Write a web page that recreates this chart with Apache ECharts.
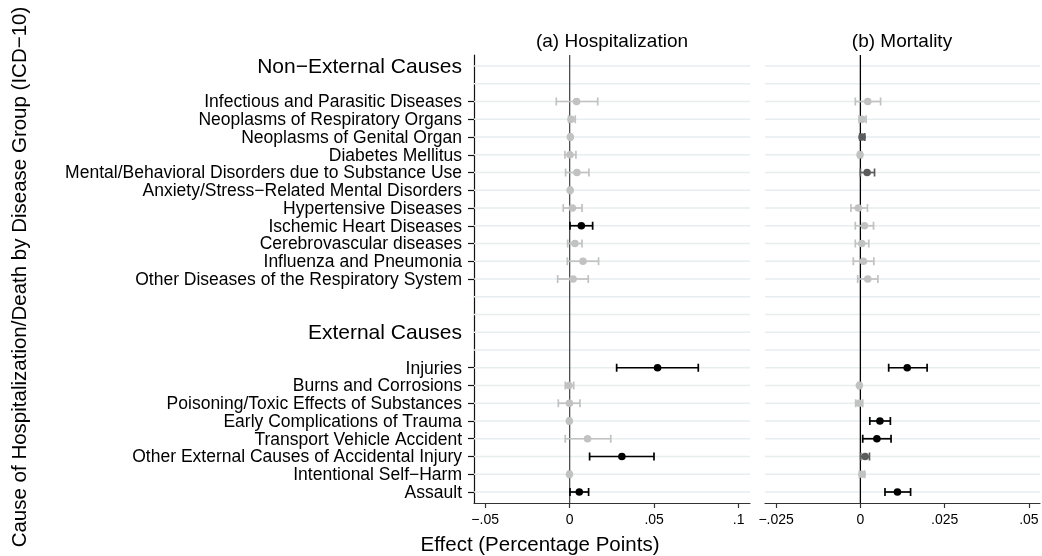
<!DOCTYPE html>
<html>
<head>
<meta charset="utf-8">
<script src="https://cdn.jsdelivr.net/npm/echarts@6/dist/echarts.min.js"></script>
<style>
  html, body { margin: 0; padding: 0; background: #fff; }
  #chart { width: 1042px; height: 556px; }
</style>
</head>
<body>
<div id="chart"></div>
<script>
// Disease groups (ICD-10)
const groupHeaders = ['Non\u2212External Causes', 'External Causes'];
const nonExternalCauses = [
  'Infectious and Parasitic Diseases',
  'Neoplasms of Respiratory Organs',
  'Neoplasms of Genital Organ',
  'Diabetes Mellitus',
  'Mental/Behavioral Disorders due to Substance Use',
  'Anxiety/Stress\u2212Related Mental Disorders',
  'Hypertensive Diseases',
  'Ischemic Heart Diseases',
  'Cerebrovascular diseases',
  'Influenza and Pneumonia',
  'Other Diseases of the Respiratory System'
];
const externalCauses = [
  'Injuries',
  'Burns and Corrosions',
  'Poisoning/Toxic Effects of Substances',
  'Early Complications of Trauma',
  'Transport Vehicle Accident',
  'Other External Causes of Accidental Injury',
  'Intentional Self\u2212Harm',
  'Assault'
];

// (a) Hospitalization: point estimate, 95% CI, significance class (0 n.s., 1 weak, 2 strong)
const hospEst = [0.0041, 0.0008, 0.0004, 0.0002, 0.0043, 0.0003, 0.0016, 0.0069, 0.0031, 0.0079, 0.0020,
                 0.0520, -0.0004, -0.0001, -0.0002, 0.0106, 0.0309, -0.0001, 0.0057];
const hospLo  = [-0.0079, -0.0006, -0.0003, -0.0028, -0.0024, -0.0004, -0.0038, 0.0002, -0.0012, -0.0014, -0.0071,
                 0.0278, -0.0026, -0.0067, -0.0008, -0.0026, 0.0118, -0.0007, 0.0002];
const hospHi  = [0.0166, 0.0033, 0.0011, 0.0037, 0.0114, 0.0010, 0.0073, 0.0136, 0.0073, 0.0171, 0.0110,
                 0.0761, 0.0024, 0.0061, 0.0004, 0.0243, 0.0499, 0.0006, 0.0112];
const hospSig = [0, 0, 0, 0, 0, 0, 0, 2, 0, 0, 0,
                 2, 0, 0, 0, 0, 2, 0, 2];

// (b) Mortality
const mortEst = [0.0022, 0.0005, 0.0005, -0.0001, 0.0020, null, -0.0006, 0.0012, 0.0004, 0.0009, 0.0022,
                 0.0139, -0.0003, -0.0004, 0.0058, 0.0049, 0.0014, 0.0005, 0.0110];
const mortLo  = [-0.0015, -0.0004, -0.0002, -0.0006, 0.0000, null, -0.0028, -0.0015, -0.0015, -0.0021, -0.0008,
                 0.0084, -0.0007, -0.0014, 0.0028, 0.0007, 0.0001, -0.0003, 0.0073];
const mortHi  = [0.0060, 0.0017, 0.0013, 0.0004, 0.0042, null, 0.0021, 0.0039, 0.0025, 0.0040, 0.0052,
                 0.0198, 0.0002, 0.0007, 0.0089, 0.0091, 0.0027, 0.0013, 0.0149];
const mortSig = [0, 0, 1, 0, 1, 0, 0, 0, 0, 0, 0,
                 2, 0, 0, 2, 2, 1, 0, 2];

// Axis ticks
const hospTicks = [-0.05, 0, 0.05, 0.1];
const hospTickLabels = ['\u2212.05', '0', '.05', '.1'];
const mortTicks = [-0.025, 0, 0.025, 0.05];
const mortTickLabels = ['\u2212.025', '0', '.025', '.05'];

const FONT = '"Liberation Sans", Arial, Helvetica, sans-serif';
const sigColors = ['#c2c2c2', '#5c5c5c', '#000000'];

// Row layout: header, blank, diseases ..., blanks, header, blank, diseases ...
const rowLabel = {};
const tickRows = [];
const labelRows = [];
const headerRows = [];
const causeRows = [];
let r = 0;
[[groupHeaders[0], nonExternalCauses], [groupHeaders[1], externalCauses]].forEach(function (g, gi) {
  if (gi > 0) r += 2;
  rowLabel[r] = g[0]; labelRows.push(r); headerRows.push(r);
  r += 2;
  g[1].forEach(function (name) {
    rowLabel[r] = name; labelRows.push(r); tickRows.push(r); causeRows.push(r);
    r += 1;
  });
});
const lastRow = r - 1;
const allRows = [];
for (let i = 0; i <= lastRow; i++) allRows.push(i);

const yMin = -0.62, yMax = lastRow + 0.62;
// empty end labels keep the edge-label overlap check away from the real labels
const yLabelValues = [yMin].concat(labelRows, [yMax]);

function ciData(est, lo, hi, sig) {
  const out = [];
  est.forEach(function (e, i) {
    if (e === null || e === undefined) return;
    out.push([lo[i], hi[i], e, causeRows[i], sig[i]]);
  });
  return out;
}

function renderCI(params, api) {
  const lo = api.value(0), hi = api.value(1), est = api.value(2), row = api.value(3), sig = api.value(4);
  const a = api.coord([lo, row]);
  const b = api.coord([hi, row]);
  const p = api.coord([est, row]);
  const c = sigColors[sig];
  const cap = 4;
  const st = { stroke: c, lineWidth: 1.7 };
  return {
    type: 'group',
    children: [
      { type: 'line', shape: { x1: a[0], y1: a[1], x2: b[0], y2: b[1] }, style: st },
      { type: 'line', shape: { x1: a[0], y1: a[1] - cap, x2: a[0], y2: a[1] + cap }, style: st },
      { type: 'line', shape: { x1: b[0], y1: b[1] - cap, x2: b[0], y2: b[1] + cap }, style: st },
      { type: 'circle', shape: { cx: p[0], cy: p[1], r: 3.8 }, style: { fill: c } }
    ]
  };
}

function renderGrid(params, api) {
  const y = api.coord([0, api.value(1)])[1];
  const cs = params.coordSys;
  return {
    type: 'line',
    shape: { x1: cs.x, y1: y, x2: cs.x + cs.width, y2: y },
    style: { stroke: '#e6eef0', lineWidth: 1.5 }
  };
}

function zeroLine(color) {
  return function (params, api) {
    const x = api.coord([api.value(0), 0])[0];
    const cs = params.coordSys;
    return {
      type: 'line',
      shape: { x1: x, y1: cs.y, x2: x, y2: cs.y + cs.height },
      style: { stroke: color, lineWidth: 1.3 }
    };
  };
}

function tickFormatter(ticks, labels) {
  return function (v) {
    for (let i = 0; i < ticks.length; i++) if (Math.abs(ticks[i] - v) < 1e-9) return labels[i];
    return '';
  };
}

function xAxisCfg(gridIndex, min, max, ticks, labels) {
  return {
    type: 'value', gridIndex: gridIndex, min: min, max: max, position: 'bottom',
    axisLine: { show: true, onZero: false, lineStyle: { color: '#333', width: 1.2 } },
    axisTick: { show: true, length: 5, customValues: ticks, lineStyle: { color: '#333', width: 1.2 } },
    axisLabel: { show: true, customValues: ticks, formatter: tickFormatter(ticks, labels),
                 showMinLabel: true, showMaxLabel: true,
                 fontFamily: FONT, fontSize: 14, color: '#000', margin: 10 },
    splitLine: { show: false }
  };
}

const option = {
  animation: false,
  backgroundColor: '#fff',
  grid: [
    { left: 474, top: 55, width: 276, height: 448, containLabel: false },
    { left: 765, top: 55, width: 275, height: 448, containLabel: false }
  ],
  xAxis: [
    xAxisCfg(0, -0.0566, 0.1067, hospTicks, hospTickLabels),
    xAxisCfg(1, -0.0283, 0.0533, mortTicks, mortTickLabels)
  ],
  yAxis: [
    {
      type: 'value', gridIndex: 0, inverse: true, min: yMin, max: yMax, position: 'left',
      axisLine: { show: true, onZero: false, lineStyle: { color: '#111', width: 1.2 } },
      axisTick: { show: true, length: 6, customValues: tickRows, lineStyle: { color: '#111', width: 1.2 } },
      axisLabel: {
        show: true, customValues: yLabelValues, margin: 12, color: '#000', hideOverlap: false,
        fontFamily: FONT, fontSize: 17.5, lineHeight: 15, padding: [2, 0, 0, 0],
        formatter: function (v) {
          if (Math.abs(v - Math.round(v)) > 1e-6) return '{z|\u200b}';
          const k = Math.round(v);
          const t = rowLabel[k] || '';
          return headerRows.indexOf(k) >= 0 ? '{h|' + t + '}' : t;
        },
        rich: {
          h: { fontFamily: FONT, fontSize: 21, lineHeight: 15, color: '#000' },
          z: { fontSize: 1, lineHeight: 1 }
        }
      },
      splitLine: { show: false }
    },
    {
      type: 'value', gridIndex: 1, inverse: true, min: yMin, max: yMax, position: 'left',
      axisLine: { show: false, onZero: false }, axisTick: { show: false }, axisLabel: { show: false },
      splitLine: { show: false }
    }
  ],
  series: [
    { type: 'custom', xAxisIndex: 0, yAxisIndex: 0, z: 1, silent: true,
      data: allRows.map(function (k) { return [0, k]; }), encode: { x: 0, y: 1 }, renderItem: renderGrid },
    { type: 'custom', xAxisIndex: 1, yAxisIndex: 1, z: 1, silent: true,
      data: allRows.map(function (k) { return [0, k]; }), encode: { x: 0, y: 1 }, renderItem: renderGrid },
    { type: 'custom', xAxisIndex: 0, yAxisIndex: 0, z: 2, silent: true,
      data: [[0, 0]], encode: { x: 0, y: 1 }, renderItem: zeroLine('#4d4d4d') },
    { type: 'custom', xAxisIndex: 1, yAxisIndex: 1, z: 2, silent: true,
      data: [[0, 0]], encode: { x: 0, y: 1 }, renderItem: zeroLine('#000') },
    { type: 'custom', name: 'Hospitalization', xAxisIndex: 0, yAxisIndex: 0, z: 3,
      data: ciData(hospEst, hospLo, hospHi, hospSig), encode: { x: [0, 1, 2], y: 3 }, renderItem: renderCI },
    { type: 'custom', name: 'Mortality', xAxisIndex: 1, yAxisIndex: 1, z: 3,
      data: ciData(mortEst, mortLo, mortHi, mortSig), encode: { x: [0, 1, 2], y: 3 }, renderItem: renderCI }
  ],
  graphic: [
    { type: 'text', x: 612, y: 42,
      style: { text: '(a) Hospitalization', font: '19px ' + FONT, fill: '#000',
               align: 'center', verticalAlign: 'middle', textAlign: 'center', textVerticalAlign: 'middle' } },
    { type: 'text', x: 902, y: 42,
      style: { text: '(b) Mortality', font: '19px ' + FONT, fill: '#000',
               align: 'center', verticalAlign: 'middle', textAlign: 'center', textVerticalAlign: 'middle' } },
    { type: 'text', x: 540, y: 545,
      style: { text: 'Effect (Percentage Points)', font: '20.5px ' + FONT, fill: '#000',
               align: 'center', verticalAlign: 'middle', textAlign: 'center', textVerticalAlign: 'middle' } },
    { type: 'text', x: 20, y: 277, rotation: Math.PI / 2,
      style: { text: 'Cause of Hospitalization/Death by Disease Group (ICD\u221210)', font: '20.5px ' + FONT, fill: '#000',
               align: 'center', verticalAlign: 'middle', textAlign: 'center', textVerticalAlign: 'middle' } }
  ]
};

const chart = echarts.init(document.getElementById('chart'), null, { renderer: 'canvas' });
chart.setOption(option);
</script>
</body>
</html>
